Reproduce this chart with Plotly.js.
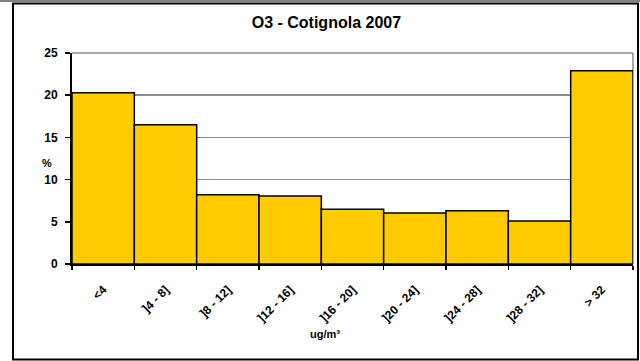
<!DOCTYPE html>
<html><head><meta charset="utf-8">
<script src="https://cdn.plot.ly/plotly-3.0.1.min.js"></script>
<style>html,body{margin:0;padding:0;background:#fff}#c{width:640px;height:361px}</style>
</head><body><div id="c"></div>
<script>
const categories = ["<4", "]4 - 8]", "]8 - 12]", "]12 - 16]", "]16 - 20]", "]20 - 24]", "]24 - 28]", "]28 - 32]", "> 32"];
const values = [20.3, 16.5, 8.2, 8.05, 6.5, 6.05, 6.3, 5.1, 22.9];
const yTicks = [0, 5, 10, 15, 20, 25];

const FONT = "Liberation Sans, Arial, sans-serif";
const L = 72, R = 7, T = 53, B = 97, W = 640, H = 361;
const pw = W - L - R, ph = H - T - B;
const px = x => (x - L) / pw;
const py = y => (H - B - y) / ph;

const trace = {
  type: "bar", x: categories, y: values,
  marker: {color: "#FFCC00", line: {color: "#000", width: 1.5}},
  hoverinfo: "none"
};

const layout = {
  width: W, height: H,
  margin: {l: L, r: R, t: T, b: B},
  paper_bgcolor: "#fff", plot_bgcolor: "#fff",
  bargap: 0,
  showlegend: false,
  font: {family: FONT, color: "#000"},
  title: {text: "O3 - Cotignola 2007", font: {family: FONT, size: 16, weight: "bold", color: "#000"},
          x: 0.51, xanchor: "center", y: 1 - 22/H, yanchor: "middle"},
  xaxis: {
    type: "category", tickson: "boundaries", ticks: "outside", ticklen: 4, tickwidth: 1.5, tickcolor: "#000",
    showline: true, linecolor: "#000", linewidth: 2, showgrid: false,
    tickangle: -45, ticklabelstandoff: 12, tickfont: {family: FONT, size: 12, weight: "bold"}, zeroline: false,
    range: [-0.5, 8.5], fixedrange: true
  },
  yaxis: {
    range: [0, 25], tickvals: yTicks, ticks: "outside", ticklen: 5, tickwidth: 1.5, tickcolor: "#000",
    showline: true, linecolor: "#000", linewidth: 2, ticklabelstandoff: 5,
    showgrid: true, gridcolor: "#8c8c8c", gridwidth: 1.5, zeroline: false,
    tickfont: {family: FONT, size: 12, weight: "bold"}, fixedrange: true
  },
  annotations: [
    {text: "%", xref: "paper", yref: "paper", x: px(40), y: py(163), showarrow: false,
     font: {family: FONT, size: 11, weight: "bold"}},
    {text: "ug/m³", xref: "paper", yref: "paper", x: px(325), y: py(342), showarrow: false,
     font: {family: FONT, size: 11, weight: "bold"}}
  ],
  shapes: [
    {type: "line", xref: "paper", yref: "paper", x0: 0, x1: 1, y0: 1, y1: 1, line: {color: "#8c8c8c", width: 1.5}, layer: "below"},
    {type: "line", xref: "paper", yref: "paper", x0: 1, x1: 1, y0: 0, y1: 1, line: {color: "#8c8c8c", width: 1.5}, layer: "below"},
    {type: "line", xref: "paper", yref: "paper", x0: px(0), x1: px(640), y0: py(1), y1: py(1), line: {color: "#808080", width: 2}},
    {type: "rect", xref: "paper", yref: "paper", x0: px(13), x1: px(638), y0: py(3.5), y1: py(359.5), line: {color: "#000", width: 2}}
  ]
};

Plotly.newPlot("c", [trace], layout, {displayModeBar: false, staticPlot: true});
</script></body></html>
